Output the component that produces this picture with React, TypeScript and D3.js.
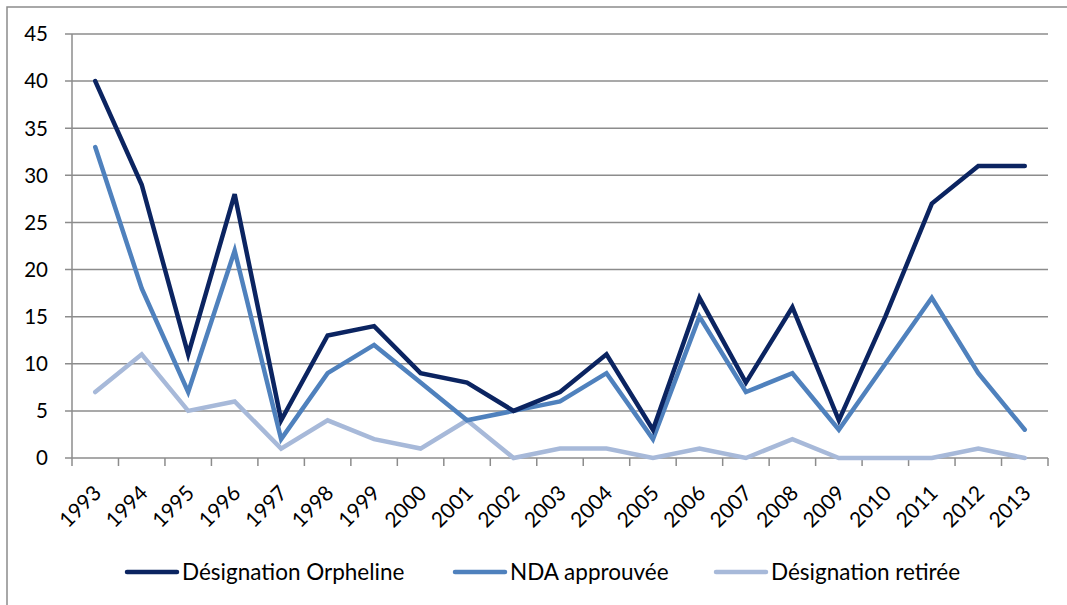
import React from "react";
import * as d3 from "d3";

const years = ["1993","1994","1995","1996","1997","1998","1999","2000","2001","2002","2003","2004","2005","2006","2007","2008","2009","2010","2011","2012","2013"];
const orpheline = [40,29,11,28,4,13,14,9,8,5,7,11,3,17,8,16,4,15,27,31,31];
const ndaApprouvee = [33,18,7,22,2,9,12,8,4,5,6,9,2,15,7,9,3,10,17,9,3];
const retiree = [7,11,5,6,1,4,2,1,4,0,1,1,0,1,0,2,0,0,0,1,0];
const yTicks = [0,5,10,15,20,25,30,35,40,45];
const seriesNames = ["Désignation Orpheline","NDA approuvée","Désignation retirée"];
const colors = ["#0b2461","#4f81bd","#a7b9d9"];

export default function App() {
  const W = 1067, H = 605;
  const left = 72, right = 1048, top = 34, bottom = 458;
  const x = d3.scaleBand<string>().domain(years).range([left, right]);
  const y = d3.scaleLinear().domain([0, 45]).range([bottom, top]);
  const line = d3.line<number>().x((_, i) => x(years[i])! + x.bandwidth() / 2).y(d => y(d));
  const series = [orpheline, ndaApprouvee, retiree];
  const font = "Lato, 'Open Sans', sans-serif";
  const legendX = [127, 455, 716];
  return (
    <svg width={W} height={H} style={{ position: "absolute", left: 0, top: 0, background: "#fff" }}>
      <rect x={7} y={7} width={W + 20} height={H + 20} fill="#fff" stroke="#8c8c8c" strokeWidth={1.5} />
      {yTicks.map(t => (
        <g key={t}>
          <line x1={left - 7} x2={right} y1={y(t)} y2={y(t)} stroke="#8c8c8c" strokeWidth={1.5} />
          <text x={48} y={y(t)} dy="0.36em" textAnchor="end" fontSize={20.5} fontFamily={font} fill="#000">{t}</text>
        </g>
      ))}
      <line x1={left} x2={left} y1={top} y2={bottom} stroke="#8c8c8c" strokeWidth={1.5} />
      {[...years, "end"].map((yr, i) => {
        const xx = left + i * x.step();
        return <line key={i} x1={xx} x2={xx} y1={bottom} y2={bottom + 8} stroke="#8c8c8c" strokeWidth={1.5} />;
      })}
      {years.map(yr => {
        const cx = x(yr)! + x.bandwidth() / 2 + 2;
        const cy = bottom + 31;
        return (
          <text key={yr} x={cx} y={cy} transform={`rotate(-45 ${cx} ${cy})`} textAnchor="end" dy="0.36em" fontSize={21} fontFamily={font} fill="#000">{yr}</text>
        );
      })}
      {series.map((s, i) => (
        <path key={i} d={line(s)!} fill="none" stroke={colors[i]} strokeWidth={4.5} strokeLinejoin="miter" strokeLinecap="round" />
      )).reverse()}
      {seriesNames.map((n, i) => (
        <g key={n}>
          <line x1={legendX[i]} x2={legendX[i] + 50} y1={572} y2={572} stroke={colors[i]} strokeWidth={4.5} strokeLinecap="round" />
          <text x={legendX[i] + 55} y={572} dy="0.36em" fontSize={22.5} fontFamily={font} fill="#000">{n}</text>
        </g>
      ))}
    </svg>
  );
}
